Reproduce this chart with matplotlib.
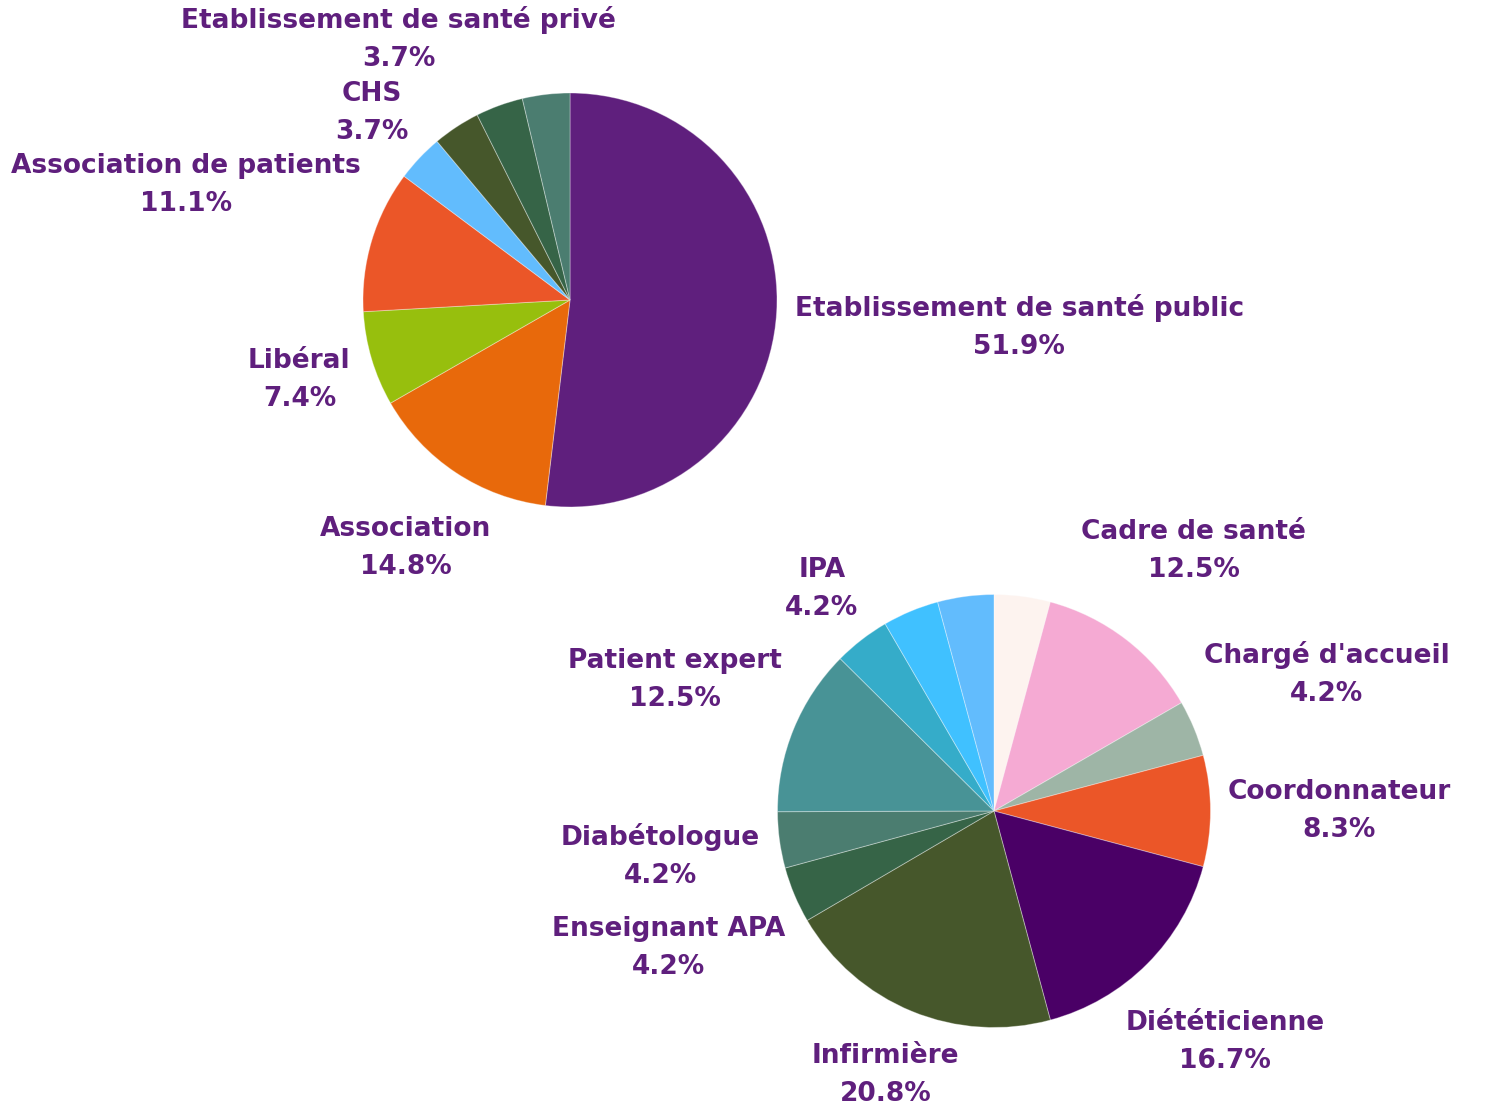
import matplotlib
matplotlib.use("Agg")
import matplotlib.pyplot as plt
import numpy as np

# ---------------- data ----------------
top_categories = ["Etablissement de santé public", "Association", "Libéral",
                  "Association de patients", "CHS", "Etablissement de santé privé",
                  None, None]  # last two slices have no visible label
top_values = [51.9, 14.8, 7.4, 11.1, 3.7, 3.7, 3.7, 3.7]
top_colors = ["#5f1f7d", "#e8690b", "#97bf0d", "#eb5628", "#62bcfd",
              "#46572b", "#366447", "#4b7d70"]

bottom_categories = [None, "Cadre de santé", "Chargé d'accueil", "Coordonnateur",
                     "Diététicienne", "Infirmière", "Enseignant APA", "Diabétologue",
                     "Patient expert", "IPA", None, None]
bottom_values = [4.2, 12.5, 4.2, 8.3, 16.7, 20.8, 4.2, 4.2, 12.5, 4.2, 4.2, 4.2]
bottom_colors = ["#fdf3ef", "#f5aad3", "#9eb5a6", "#eb5628", "#4a0066", "#46572b",
                 "#366447", "#4b7d70", "#489396", "#35acc9", "#40c1ff", "#62bcfd"]

# ---------------- layout ----------------
W, H = 1486, 1113
TEXT_COLOR = "#5f1f7d"
FONT = ["DejaVu Sans"]
FONT_SIZE = 19
LINE_SPACING = 1.6
LABEL_OFFSET = 17
MARGIN = 6
top_center_px, top_radius = (570, 300), 207
bottom_center_px, bottom_radius = (994, 811), 216.5

fig = plt.figure(figsize=(W / 100, H / 100), dpi=100)
fig.patch.set_facecolor("white")
ax = fig.add_axes([0, 0, 1, 1])


def draw_pie(center_px, radius, values, colors):
    center = (center_px[0], H - center_px[1])
    wedges, _ = ax.pie(values, colors=colors, startangle=90, counterclock=False,
                       center=center, radius=radius,
                       wedgeprops=dict(edgecolor=(1, 1, 1, 0.35), linewidth=0.7))
    return center, wedges


top_c, top_w = draw_pie(top_center_px, top_radius, top_values, top_colors)
bot_c, bot_w = draw_pie(bottom_center_px, bottom_radius, bottom_values, bottom_colors)

ax.set_xlim(0, W)
ax.set_ylim(0, H)
ax.set_aspect("auto")
ax.axis("off")

fig.canvas.draw()
renderer = fig.canvas.get_renderer()


def place_labels(center, radius, wedges, categories, values):
    cx, cy = center
    for wedge, cat, val in zip(wedges, categories, values):
        if cat is None:
            continue
        mid = np.deg2rad((wedge.theta1 + wedge.theta2) / 2.0)
        vx, vy = np.cos(mid), np.sin(mid)
        t = ax.text(cx, cy, f"{cat}\n{val:.1f}%", ha="center", va="center",
                    multialignment="center", color=TEXT_COLOR, fontsize=FONT_SIZE,
                    fontweight="bold", family=FONT, linespacing=LINE_SPACING)
        bb = t.get_window_extent(renderer)
        w, h = bb.width, bb.height
        d = radius + LABEL_OFFSET + abs(w / 2 * vx) + abs(h / 2 * vy)
        # keep the label inside the canvas by sliding it inward along its ray
        if vy > 0:
            d = min(d, (H - MARGIN - h / 2 - cy) / vy)
        elif vy < 0:
            d = min(d, (MARGIN + h / 2 - cy) / vy)
        if vx > 0:
            d = min(d, (W - MARGIN - w / 2 - cx) / vx)
        elif vx < 0:
            d = min(d, (MARGIN + w / 2 - cx) / vx)
        t.set_position((cx + d * vx, cy + d * vy))


place_labels(top_c, top_radius, top_w, top_categories, top_values)
place_labels(bot_c, bottom_radius, bot_w, bottom_categories, bottom_values)

fig.savefig("out.png", dpi=100, facecolor="white")
